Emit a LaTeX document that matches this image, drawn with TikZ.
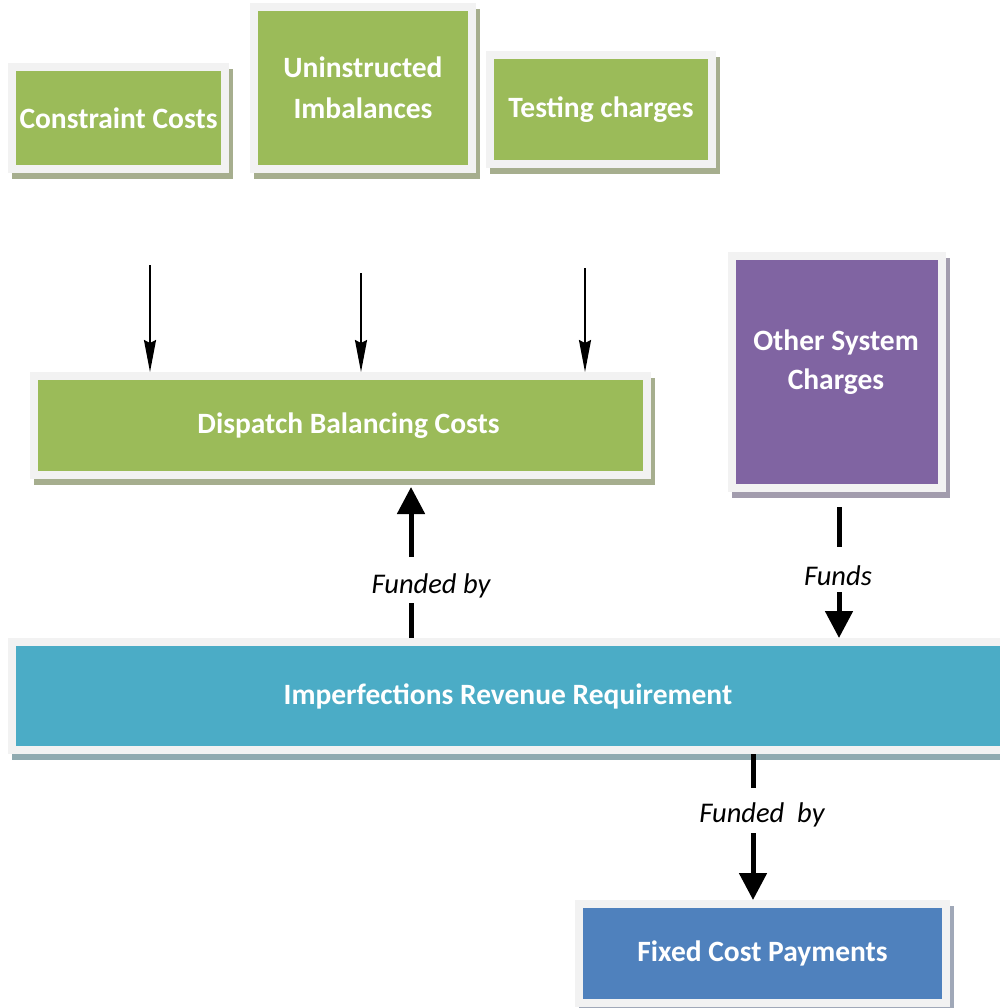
\documentclass[tikz,border=0pt]{standalone}
\usepackage{fontspec}
\setmainfont{Carlito}
\usetikzlibrary{arrows.meta}
\definecolor{cgreen}{HTML}{9BBB59}
\definecolor{cpurple}{HTML}{8064A2}
\definecolor{cteal}{HTML}{4BACC6}
\definecolor{cblue}{HTML}{4F81BD}
\definecolor{cframe}{HTML}{F2F2F2}
\definecolor{sgreen}{HTML}{A6AE8E}
\definecolor{spurple}{HTML}{A29CAD}
\definecolor{steal}{HTML}{8FAAB0}
\definecolor{sblue}{HTML}{A0A8B8}
\tikzset{
  box/.style 2 args={draw=cframe, line width=8pt, fill=#1,
    preaction={draw=#2, fill=#2, line width=8pt, transform canvas={shift={(4pt,-6pt)}}},
    inner sep=0pt, text=white, align=center,
    font=\fontsize{29.5}{41}\selectfont\bfseries},
  lbl/.style={font=\fontsize{28.5}{32}\selectfont\itshape, inner sep=0pt},
  thinarr/.style={line width=2pt, -{Stealth[width=12pt,length=32pt,inset=3pt]}},
  thickarr/.style={line width=5pt, -{Triangle[width=27pt,length=27pt]}},
  thickline/.style={line width=5pt}
}
\begin{document}
\begin{tikzpicture}[x=1pt,y=-1pt]
\useasboundingbox (0,0) rectangle (999,1008);
% boxes (size = inner coloured area + 8pt)
\node[box={cgreen}{sgreen}, minimum width=213pt, minimum height=102pt] (cc) at (118.5,118) {Constraint Costs};
\node[box={cgreen}{sgreen}, minimum width=218pt, minimum height=162pt] (ui) at (363,88) {Uninstructed\\Imbalances};
\node[box={cgreen}{sgreen}, minimum width=222pt, minimum height=109pt] (tc) at (601,109.5) {Testing charges};
\node[box={cgreen}{sgreen}, minimum width=613pt, minimum height=99pt] (db) at (340.5,425.5) {\hspace*{16pt}Dispatch Balancing Costs};
\node[box={cpurple}{spurple}, minimum width=210pt, minimum height=232pt] (os) at (837,372) {};
\node[text=white, align=center, font=\fontsize{29.5}{39}\selectfont\bfseries, inner sep=0pt] (ost) at (836,362) {Other System\\Charges};
\node[box={cteal}{steal}, minimum width=992pt, minimum height=108pt] (ir) at (508,696) {Imperfections Revenue Requirement};
\node[box={cblue}{sblue}, minimum width=367pt, minimum height=99pt] (fc) at (762.5,953.5) {Fixed Cost Payments};
% thin arrows into Dispatch Balancing Costs
\coordinate (a1) at (150,265);
\coordinate (a2) at (361,273);
\coordinate (a3) at (585,268);
\draw[thinarr] (a1) -- (a1 |- db.north);
\draw[thinarr] (a2) -- (a2 |- db.north);
\draw[thinarr] (a3) -- (a3 |- db.north);
% Funded by (up)
\node[lbl] (l1) at (431,586) {Funded by};
\coordinate (u1) at (411,603);
\coordinate (u2) at (411,557);
\coordinate (u3) at (411,487);
\draw[thickline] (u1 |- ir.north) -- (u1);
\draw[thickarr] (u2) -- (u3);
% Funds (down)
\node[lbl] (l2) at (838,576) {Funds};
\coordinate (f1) at (839,507);
\coordinate (f2) at (839,547);
\coordinate (f3) at (839,592);
\draw[thickline] (f1) -- (f2);
\draw[thickarr] (f3) -- (f3 |- ir.north);
% Funded  by (down)
\node[lbl] (l3) at (762,815) {Funded\ \ by};
\coordinate (d1) at (753,788);
\coordinate (d2) at (753,833);
\draw[thickline] (d1 |- ir.south) -- (d1);
\draw[thickarr] (d2) -- (d2 |- fc.north);
\end{tikzpicture}
\end{document}
